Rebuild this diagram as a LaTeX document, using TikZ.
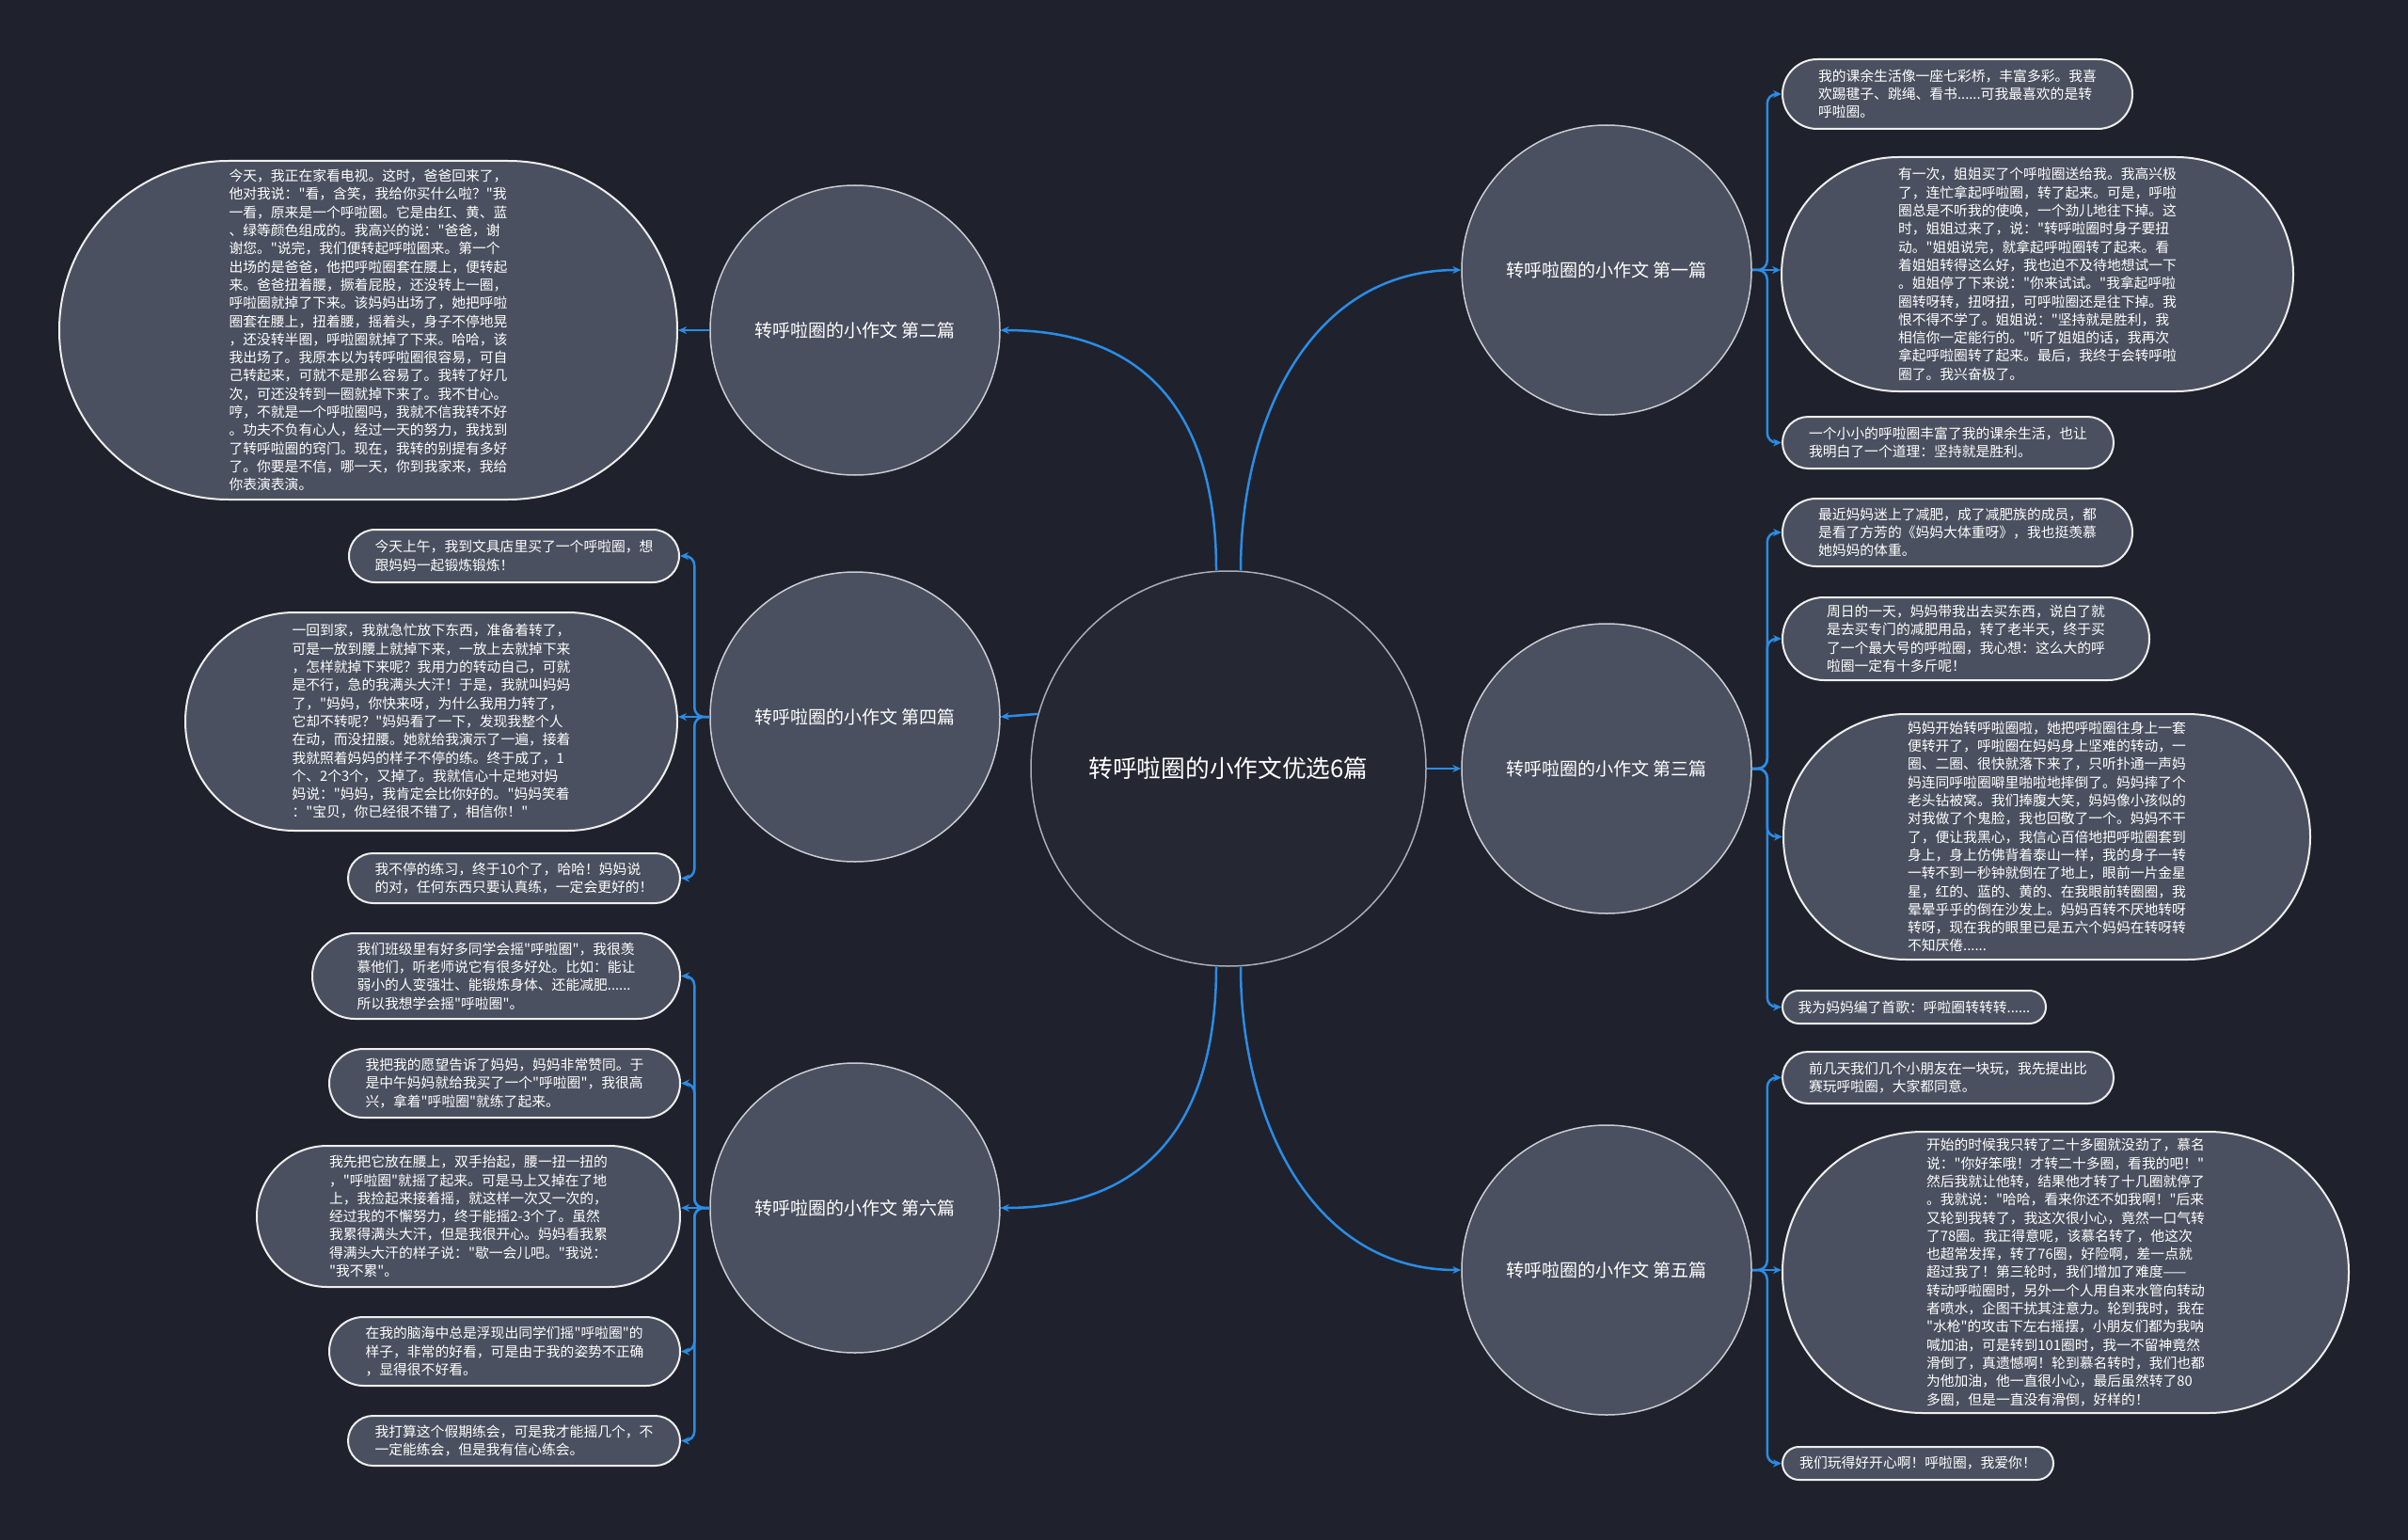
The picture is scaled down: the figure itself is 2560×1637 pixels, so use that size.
\documentclass[tikz,border=0pt]{standalone}
\usepackage{fontspec}
\setmainfont{Noto Sans CJK SC}[Ligatures=TeXOff]
\usetikzlibrary{arrows.meta}
\definecolor{mapbg}{HTML}{1F222C}
\definecolor{hubfill}{HTML}{252833}
\definecolor{hubline}{HTML}{A9ADB5}
\definecolor{topicfill}{HTML}{4A505F}
\definecolor{topicline}{HTML}{C9CCD2}
\definecolor{leaffill}{HTML}{4A505F}
\definecolor{leafline}{HTML}{EEEEEE}
\definecolor{linkblue}{HTML}{2B8CE6}

\begin{document}
\begin{tikzpicture}[x=1pt,y=-1pt,
  hub/.style={circle,draw=hubline,line width=1.5pt,fill=hubfill,text=white,
    font=\fontsize{25.7}{30}\selectfont,minimum size=420pt,inner sep=0pt},
  topic/.style={circle,draw=topicline,line width=1.5pt,fill=topicfill,text=white,
    font=\fontsize{19}{23}\selectfont,minimum size=308pt,inner sep=0pt},
  leaf/.style={draw=leafline,line width=2pt,fill=leaffill,text=white,
    font=\fontsize{14.8}{19.3}\selectfont,align=left,inner sep=0pt,
    minimum height=#1,rounded corners=#1/2},
  arr/.style={-{Stealth[length=9pt,width=8pt]},line width=2.5pt,draw=linkblue,rounded corners=10pt}]
  \fill[mapbg] (0,0) rectangle (2560,1637);
  \node[hub] (hub) at (1306,817) {转呼啦圈的小作文优选6篇};
  \node[topic] (t1) at (1708,287) {转呼啦圈的小作文 第一篇};
  \node[topic] (t3) at (1708,817) {转呼啦圈的小作文 第三篇};
  \node[topic] (t5) at (1708,1350) {转呼啦圈的小作文 第五篇};
  \node[topic] (t2) at (909,351) {转呼啦圈的小作文 第二篇};
  \node[topic] (t4) at (909,762) {转呼啦圈的小作文 第四篇};
  \node[topic] (t6) at (909,1284) {转呼啦圈的小作文 第六篇};
  % right side
  \node[leaf=74,minimum width=372] (t1a) at (2081,100) {我的课余生活像一座七彩桥，丰富多彩。我喜\\
欢踢毽子、跳绳、看书......可我最喜欢的是转\\
呼啦圈。};
  \node[leaf=249,minimum width=544] (t1b) at (2166,291.5) {有一次，姐姐买了个呼啦圈送给我。我高兴极\\
了，连忙拿起呼啦圈，转了起来。可是，呼啦\\
圈总是不听我的使唤，一个劲儿地往下掉。这\\
时，姐姐过来了，说："转呼啦圈时身子要扭\\
动。"姐姐说完，就拿起呼啦圈转了起来。看\\
着姐姐转得这么好，我也迫不及待地想试一下\\
。姐姐停了下来说："你来试试。"我拿起呼啦\\
圈转呀转，扭呀扭，可呼啦圈还是往下掉。我\\
恨不得不学了。姐姐说："坚持就是胜利，我\\
相信你一定能行的。"听了姐姐的话，我再次\\
拿起呼啦圈转了起来。最后，我终于会转呼啦\\
圈了。我兴奋极了。};
  \node[leaf=55,minimum width=352] (t1c) at (2071,470.5) {一个小小的呼啦圈丰富了我的课余生活，也让\\
我明白了一个道理：坚持就是胜利。};
  \node[leaf=72,minimum width=372] (t3a) at (2081,566) {最近妈妈迷上了减肥，成了减肥族的成员，都\\
是看了方芳的《妈妈大体重呀》，我也挺羡慕\\
她妈妈的体重。};
  \node[leaf=88,minimum width=390] (t3b) at (2090,679) {周日的一天，妈妈带我出去买东西，说白了就\\
是去买专门的减肥用品，转了老半天，终于买\\
了一个最大号的呼啦圈，我心想：这么大的呼\\
啦圈一定有十多斤呢！};
  \node[leaf=261,minimum width=560] (t3c) at (2176,889.5) {妈妈开始转呼啦圈啦，她把呼啦圈往身上一套\\
便转开了，呼啦圈在妈妈身上坚难的转动，一\\
圈、二圈、很快就落下来了，只听扑通一声妈\\
妈连同呼啦圈噼里啪啦地摔倒了。妈妈摔了个\\
老头钻被窝。我们捧腹大笑，妈妈像小孩似的\\
对我做了个鬼脸，我也回敬了一个。妈妈不干\\
了，便让我黑心，我信心百倍地把呼啦圈套到\\
身上，身上仿佛背着泰山一样，我的身子一转\\
一转不到一秒钟就倒在了地上，眼前一片金星\\
星，红的、蓝的、黄的、在我眼前转圈圈，我\\
晕晕乎乎的倒在沙发上。妈妈百转不厌地转呀\\
转呀，现在我的眼里已是五六个妈妈在转呀转\\
不知厌倦......};
  \node[leaf=35,minimum width=280] (t3d) at (2035,1070.5) {我为妈妈编了首歌：呼啦圈转转转......};
  \node[leaf=55,minimum width=352] (t5a) at (2071,1145.5) {前几天我们几个小朋友在一块玩，我先提出比\\
赛玩呼啦圈，大家都同意。};
  \node[leaf=299,minimum width=602] (t5b) at (2196,1352.5) {开始的时候我只转了二十多圈就没劲了，慕名\\
说："你好笨哦！才转二十多圈，看我的吧！"\\
然后我就让他转，结果他才转了十几圈就停了\\
。我就说："哈哈，看来你还不如我啊！"后来\\
又轮到我转了，我这次很小心，竟然一口气转\\
了78圈。我正得意呢，该慕名转了，他这次\\
也超常发挥，转了76圈，好险啊，差一点就\\
超过我了！第三轮时，我们增加了难度——\\
转动呼啦圈时，另外一个人用自来水管向转动\\
者喷水，企图干扰其注意力。轮到我时，我在\\
"水枪"的攻击下左右摇摆，小朋友们都为我呐\\
喊加油，可是转到101圈时，我一不留神竟然\\
滑倒了，真遗憾啊！轮到慕名转时，我们也都\\
为他加油，他一直很小心，最后虽然转了80\\
多圈，但是一直没有滑倒，好样的！};
  \node[leaf=35,minimum width=288] (t5c) at (2039,1555.5) {我们玩得好开心啊！呼啦圈，我爱你！};
  % left side
  \node[leaf=360,minimum width=657] (t2a) at (391.5,351) {今天，我正在家看电视。这时，爸爸回来了，\\
他对我说："看，含笑，我给你买什么啦？"我\\
一看，原来是一个呼啦圈。它是由红、黄、蓝\\
、绿等颜色组成的。我高兴的说："爸爸，谢\\
谢您。"说完，我们便转起呼啦圈来。第一个\\
出场的是爸爸，他把呼啦圈套在腰上，便转起\\
来。爸爸扭着腰，撅着屁股，还没转上一圈，\\
呼啦圈就掉了下来。该妈妈出场了，她把呼啦\\
圈套在腰上，扭着腰，摇着头，身子不停地晃\\
，还没转半圈，呼啦圈就掉了下来。哈哈，该\\
我出场了。我原本以为转呼啦圈很容易，可自\\
己转起来，可就不是那么容易了。我转了好几\\
次，可还没转到一圈就掉下来了。我不甘心。\\
哼，不就是一个呼啦圈吗，我就不信我转不好\\
。功夫不负有心人，经过一天的努力，我找到\\
了转呼啦圈的窍门。现在，我转的别提有多好\\
了。你要是不信，哪一天，你到我家来，我给\\
你表演表演。};
  \node[leaf=56,minimum width=351] (t4a) at (546.5,591) {今天上午，我到文具店里买了一个呼啦圈，想\\
跟妈妈一起锻炼锻炼！};
  \node[leaf=232,minimum width=523] (t4b) at (458.5,767) {一回到家，我就急忙放下东西，准备着转了，\\
可是一放到腰上就掉下来，一放上去就掉下来\\
，怎样就掉下来呢？我用力的转动自己，可就\\
是不行，急的我满头大汗！于是，我就叫妈妈\\
了，"妈妈，你快来呀，为什么我用力转了，\\
它却不转呢？"妈妈看了一下，发现我整个人\\
在动，而没扭腰。她就给我演示了一遍，接着\\
我就照着妈妈的样子不停的练。终于成了，1\\
个、2个3个，又掉了。我就信心十足地对妈\\
妈说："妈妈，我肯定会比你好的。"妈妈笑着\\
："宝贝，你已经很不错了，相信你！"};
  \node[leaf=53,minimum width=353] (t4c) at (546.5,933.5) {我不停的练习，终于10个了，哈哈！妈妈说\\
的对，任何东西只要认真练，一定会更好的！};
  \node[leaf=91,minimum width=391] (t6a) at (527.5,1037.5) {我们班级里有好多同学会摇"呼啦圈"，我很羡\\
慕他们，听老师说它有很多好处。比如：能让\\
弱小的人变强壮、能锻炼身体、还能减肥......\\
所以我想学会摇"呼啦圈"。};
  \node[leaf=73,minimum width=373] (t6b) at (536.5,1151.5) {我把我的愿望告诉了妈妈，妈妈非常赞同。于\\
是中午妈妈就给我买了一个"呼啦圈"，我很高\\
兴，拿着"呼啦圈"就练了起来。};
  \node[leaf=150,minimum width=450] (t6c) at (498,1293) {我先把它放在腰上，双手抬起，腰一扭一扭的\\
，"呼啦圈"就摇了起来。可是马上又掉在了地\\
上，我捡起来接着摇，就这样一次又一次的，\\
经过我的不懈努力，终于能摇2-3个了。虽然\\
我累得满头大汗，但是我很开心。妈妈看我累\\
得满头大汗的样子说："歇一会儿吧。"我说：\\
"我不累"。};
  \node[leaf=73,minimum width=373] (t6d) at (536.5,1436.5) {在我的脑海中总是浮现出同学们摇"呼啦圈"的\\
样子，非常的好看，可是由于我的姿势不正确\\
，显得很不好看。};
  \node[leaf=53,minimum width=353] (t6e) at (546.5,1531.5) {我打算这个假期练会，可是我才能摇几个，不\\
一定能练会，但是我有信心练会。};
  % hub links
  \draw[arr] ([xshift=13pt]hub.north) .. controls +(0,-160) and +(-160,0) .. (t1.west);
  \draw[arr] (hub.east) -- (t3.west);
  \draw[arr] ([xshift=13pt]hub.south) .. controls +(0,160) and +(-160,0) .. (t5.west);
  \draw[arr] ([xshift=-13pt]hub.north) .. controls +(0,-160) and +(160,0) .. (t2.east);
  \draw[arr] (hub.164.5) -- (t4.east);
  \draw[arr] ([xshift=-13pt]hub.south) .. controls +(0,160) and +(160,0) .. (t6.east);
  % topic links
  \foreach \l in {t1a,t1c} \draw[arr] (t1.east) -- ++(16,0) |- (\l.west);
  \draw[arr] (t1.east) -- (t1.east -| t1b.west);
  \foreach \l in {t3a,t3b,t3c,t3d} \draw[arr] (t3.east) -- ++(16,0) |- (\l.west);
  \foreach \l in {t5a,t5c} \draw[arr] (t5.east) -- ++(16,0) |- (\l.west);
  \draw[arr] (t5.east) -- (t5.east -| t5b.west);
  \draw[arr] (t2.west) -- (t2a.east);
  \foreach \l in {t4a,t4c} \draw[arr] (t4.west) -- ++(-16,0) |- (\l.east);
  \draw[arr] (t4.west) -- (t4.west -| t4b.east);
  \foreach \l in {t6a,t6b,t6d,t6e} \draw[arr] (t6.west) -- ++(-16,0) |- (\l.east);
  \draw[arr] (t6.west) -- (t6.west -| t6c.east);
\end{tikzpicture}
\end{document}
